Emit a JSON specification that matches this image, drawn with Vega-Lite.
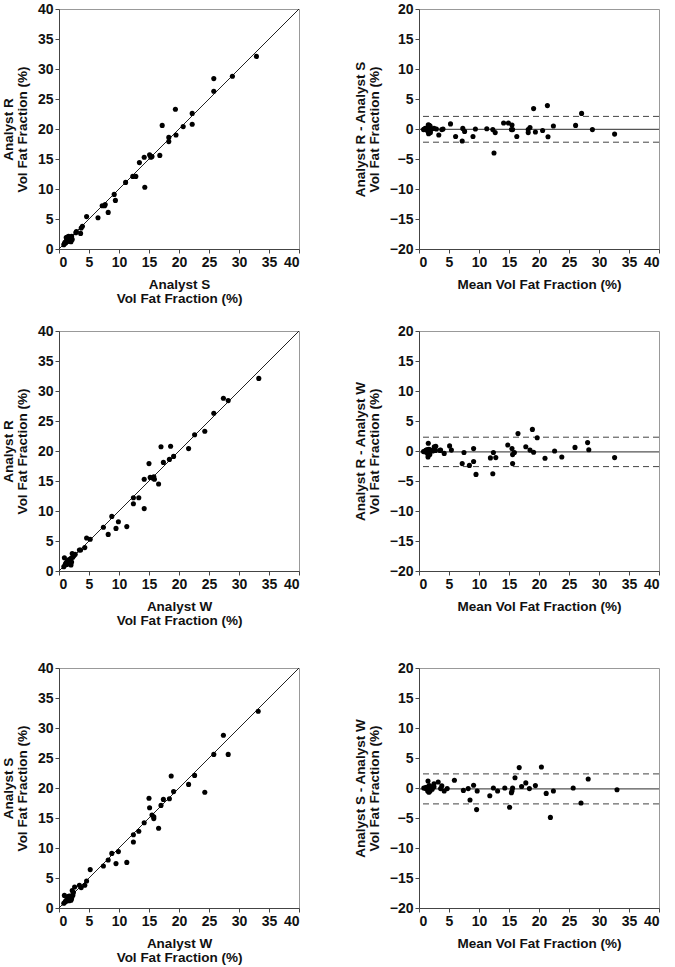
{
  "$schema": "https://vega.github.io/schema/vega-lite/v6.json",
  "background": "white",
  "padding": {"left": 0, "top": 1, "right": 5, "bottom": 5},
  "config": {
    "font": "Liberation Sans",
    "view": {"stroke": "#999", "strokeWidth": 1},
    "axis": {
      "grid": false,
      "labelFont": "Liberation Sans",
      "labelFontWeight": "bold",
      "labelFontSize": 14,
      "labelColor": "#111",
      "labelPadding": 2,
      "titleFont": "Liberation Sans",
      "titleFontWeight": "bold",
      "titleFontSize": 13.5,
      "titleColor": "#111",
      "titleLineHeight": 14,
      "domainColor": "#444",
      "tickColor": "#444",
      "tickSize": 4
    },
    "axisX": {"titlePadding": 8},
    "axisY": {"titlePadding": 8}
  },
  "datasets": {
    "identity": [{"x": 0, "y": 0}, {"x": 40, "y": 40}],
    "rs": [
      {"x": 32.9, "y": 32.1}, {"x": 28.9, "y": 28.8}, {"x": 25.8, "y": 28.4}, {"x": 25.8, "y": 26.3},
      {"x": 22.2, "y": 22.6}, {"x": 22.2, "y": 20.8}, {"x": 19.4, "y": 23.3}, {"x": 19.5, "y": 19.0},
      {"x": 20.7, "y": 20.4}, {"x": 17.2, "y": 20.6}, {"x": 18.3, "y": 18.6}, {"x": 18.3, "y": 17.9},
      {"x": 16.8, "y": 15.6}, {"x": 15.1, "y": 15.7}, {"x": 15.3, "y": 15.3}, {"x": 15.5, "y": 15.4},
      {"x": 14.2, "y": 15.3}, {"x": 13.4, "y": 14.4}, {"x": 14.3, "y": 10.3}, {"x": 12.3, "y": 12.1},
      {"x": 12.8, "y": 12.1}, {"x": 11.1, "y": 11.1}, {"x": 9.2, "y": 9.1}, {"x": 9.4, "y": 8.1},
      {"x": 8.2, "y": 6.1}, {"x": 7.2, "y": 7.2}, {"x": 7.6, "y": 7.2}, {"x": 7.7, "y": 7.4},
      {"x": 6.5, "y": 5.2}, {"x": 4.6, "y": 5.4}, {"x": 3.9, "y": 3.8}, {"x": 3.7, "y": 3.5},
      {"x": 3.6, "y": 2.6}, {"x": 2.9, "y": 2.9}, {"x": 2.8, "y": 2.7},
      {"x": 0.8, "y": 0.7}, {"x": 0.9, "y": 0.9}, {"x": 1.0, "y": 1.1}, {"x": 1.1, "y": 1.0},
      {"x": 1.2, "y": 1.3}, {"x": 1.3, "y": 1.2}, {"x": 1.3, "y": 1.5}, {"x": 1.4, "y": 1.8},
      {"x": 1.4, "y": 2.0}, {"x": 1.5, "y": 1.4}, {"x": 1.6, "y": 1.6}, {"x": 1.6, "y": 2.1},
      {"x": 1.7, "y": 1.3}, {"x": 1.8, "y": 1.7}, {"x": 1.9, "y": 1.5}, {"x": 2.0, "y": 1.9},
      {"x": 2.0, "y": 1.2}, {"x": 2.1, "y": 2.1}, {"x": 2.2, "y": 1.6}, {"x": 1.2, "y": 1.9}
    ],
    "rs_ba": [
      {"m": 32.6, "d": -0.85}, {"m": 28.9, "d": -0.1}, {"m": 27.1, "d": 2.6}, {"m": 26.1, "d": 0.6},
      {"m": 22.4, "d": 0.5}, {"m": 21.4, "d": 3.9}, {"m": 21.5, "d": -1.3}, {"m": 20.6, "d": -0.25},
      {"m": 19.4, "d": -0.5}, {"m": 19.1, "d": 3.4}, {"m": 18.5, "d": 0.25}, {"m": 18.2, "d": -0.6},
      {"m": 18.2, "d": -0.1}, {"m": 16.3, "d": -1.25}, {"m": 15.6, "d": -0.1}, {"m": 15.4, "d": -0.1},
      {"m": 15.5, "d": 0.65}, {"m": 14.9, "d": 1.0}, {"m": 14.1, "d": 1.0}, {"m": 12.5, "d": -4.0},
      {"m": 12.7, "d": -0.6}, {"m": 12.3, "d": -0.1}, {"m": 11.3, "d": 0.05}, {"m": 9.4, "d": 0},
      {"m": 9.0, "d": -1.25}, {"m": 7.6, "d": -0.4}, {"m": 7.3, "d": 0.1}, {"m": 7.2, "d": -2.0},
      {"m": 6.1, "d": -1.25}, {"m": 5.25, "d": 0.85}, {"m": 4.0, "d": 0}, {"m": 3.8, "d": -0.1},
      {"m": 3.3, "d": -1.0}, {"m": 2.9, "d": 0}, {"m": 2.5, "d": 0.1},
      {"m": 0.75, "d": -0.1}, {"m": 0.9, "d": 0}, {"m": 1.05, "d": 0.1}, {"m": 1.05, "d": -0.1},
      {"m": 1.25, "d": 0.1}, {"m": 1.25, "d": -0.1}, {"m": 1.4, "d": 0.2}, {"m": 1.6, "d": 0.4},
      {"m": 1.7, "d": 0.6}, {"m": 1.45, "d": -0.1}, {"m": 1.6, "d": 0}, {"m": 1.85, "d": 0.5},
      {"m": 1.5, "d": -0.4}, {"m": 1.75, "d": -0.1}, {"m": 1.7, "d": -0.4}, {"m": 1.95, "d": -0.1},
      {"m": 1.6, "d": -0.8}, {"m": 2.1, "d": 0}, {"m": 1.9, "d": -0.6}, {"m": 1.55, "d": 0.7}
    ],
    "rs_lim": [{"d": 2.1}, {"d": -2.2}],
    "rs_mean": [{"d": -0.05}],
    "rw": [
      {"x": 33.3, "y": 32.1}, {"x": 27.4, "y": 28.8}, {"x": 28.2, "y": 28.4}, {"x": 25.8, "y": 26.3},
      {"x": 22.6, "y": 22.7}, {"x": 24.3, "y": 23.3}, {"x": 21.6, "y": 20.4}, {"x": 17.0, "y": 20.7},
      {"x": 18.6, "y": 20.8}, {"x": 19.1, "y": 19.1}, {"x": 18.4, "y": 18.6}, {"x": 17.4, "y": 18.1},
      {"x": 15.0, "y": 17.9}, {"x": 16.6, "y": 14.5}, {"x": 15.2, "y": 15.6}, {"x": 15.8, "y": 15.7},
      {"x": 15.9, "y": 15.3}, {"x": 15.6, "y": 15.5}, {"x": 14.2, "y": 15.3}, {"x": 14.2, "y": 10.4},
      {"x": 12.4, "y": 12.2}, {"x": 13.3, "y": 12.2}, {"x": 12.4, "y": 11.2}, {"x": 11.3, "y": 7.4},
      {"x": 9.9, "y": 8.2}, {"x": 9.5, "y": 7.1}, {"x": 8.8, "y": 9.1}, {"x": 8.2, "y": 6.1},
      {"x": 7.4, "y": 7.3}, {"x": 5.2, "y": 5.3}, {"x": 4.6, "y": 5.5}, {"x": 4.3, "y": 3.9},
      {"x": 3.4, "y": 3.5}, {"x": 3.6, "y": 3.5},
      {"x": 0.8, "y": 0.7}, {"x": 0.9, "y": 2.2}, {"x": 1.0, "y": 1.0}, {"x": 1.1, "y": 1.2},
      {"x": 1.2, "y": 1.4}, {"x": 1.3, "y": 1.1}, {"x": 1.4, "y": 1.6}, {"x": 1.5, "y": 1.3},
      {"x": 1.6, "y": 1.5}, {"x": 1.7, "y": 1.9}, {"x": 1.8, "y": 1.2}, {"x": 1.9, "y": 1.7},
      {"x": 2.0, "y": 1.0}, {"x": 2.0, "y": 2.1}, {"x": 2.1, "y": 1.5}, {"x": 2.2, "y": 2.9},
      {"x": 2.3, "y": 2.3}, {"x": 2.5, "y": 2.6}, {"x": 2.7, "y": 2.8}, {"x": 1.5, "y": 1.8}
    ],
    "rw_ba": [
      {"m": 32.6, "d": -1.1}, {"m": 28.3, "d": 0.2}, {"m": 28.1, "d": 1.4}, {"m": 26.0, "d": 0.6},
      {"m": 23.8, "d": -1.0}, {"m": 22.6, "d": 0}, {"m": 21.0, "d": -1.2}, {"m": 19.7, "d": 2.2},
      {"m": 19.1, "d": -0.2}, {"m": 18.9, "d": 3.6}, {"m": 18.5, "d": 0.15}, {"m": 17.8, "d": 0.7},
      {"m": 16.5, "d": 2.9}, {"m": 15.9, "d": -0.25}, {"m": 15.6, "d": -0.6}, {"m": 15.5, "d": 0.4},
      {"m": 15.6, "d": -2.1}, {"m": 14.8, "d": 1.0}, {"m": 12.8, "d": -1.1}, {"m": 12.4, "d": -0.25},
      {"m": 11.9, "d": -1.15}, {"m": 12.3, "d": -3.8}, {"m": 9.5, "d": -3.9}, {"m": 9.1, "d": -1.75},
      {"m": 9.1, "d": 0.4}, {"m": 8.4, "d": -2.4}, {"m": 7.5, "d": -0.25}, {"m": 7.2, "d": -2.1},
      {"m": 5.4, "d": 0.15}, {"m": 5.1, "d": 0.85}, {"m": 4.2, "d": -0.4}, {"m": 3.6, "d": 0.15},
      {"m": 2.8, "d": 0.8}, {"m": 3.5, "d": 0.1},
      {"m": 0.75, "d": -0.1}, {"m": 1.55, "d": 1.3}, {"m": 1.0, "d": 0}, {"m": 1.15, "d": 0.1},
      {"m": 1.3, "d": 0.2}, {"m": 1.2, "d": -0.2}, {"m": 1.5, "d": 0.2}, {"m": 1.4, "d": -0.2},
      {"m": 1.55, "d": -0.1}, {"m": 1.8, "d": 0.2}, {"m": 1.5, "d": -0.6}, {"m": 1.8, "d": -0.2},
      {"m": 1.5, "d": -1.0}, {"m": 2.05, "d": 0.1}, {"m": 1.8, "d": -0.6}, {"m": 2.55, "d": 0.7},
      {"m": 2.3, "d": 0}, {"m": 2.55, "d": 0.1}, {"m": 2.75, "d": 0.1}, {"m": 1.65, "d": 0.3}
    ],
    "rw_lim": [{"d": 2.3}, {"d": -2.6}],
    "rw_mean": [{"d": -0.15}],
    "sw": [
      {"x": 33.2, "y": 32.8}, {"x": 27.4, "y": 28.8}, {"x": 28.2, "y": 25.6}, {"x": 25.8, "y": 25.6},
      {"x": 22.6, "y": 22.1}, {"x": 18.7, "y": 22.0}, {"x": 21.6, "y": 20.6}, {"x": 24.3, "y": 19.3},
      {"x": 19.1, "y": 19.4}, {"x": 18.4, "y": 18.2}, {"x": 17.4, "y": 18.1}, {"x": 17.0, "y": 17.1},
      {"x": 15.0, "y": 18.3}, {"x": 15.1, "y": 16.7}, {"x": 15.5, "y": 15.5}, {"x": 15.8, "y": 15.2},
      {"x": 15.8, "y": 14.9}, {"x": 16.6, "y": 13.3}, {"x": 14.2, "y": 14.2}, {"x": 13.3, "y": 12.8},
      {"x": 12.4, "y": 12.2}, {"x": 12.4, "y": 11.0}, {"x": 9.9, "y": 9.4}, {"x": 8.8, "y": 9.1},
      {"x": 8.2, "y": 8.0}, {"x": 7.4, "y": 7.0}, {"x": 9.5, "y": 7.4}, {"x": 11.3, "y": 7.6},
      {"x": 5.2, "y": 6.4}, {"x": 4.6, "y": 4.5}, {"x": 4.3, "y": 3.8}, {"x": 3.4, "y": 3.8},
      {"x": 3.7, "y": 3.4}, {"x": 2.6, "y": 3.5}, {"x": 2.2, "y": 2.9},
      {"x": 0.8, "y": 0.8}, {"x": 0.9, "y": 2.1}, {"x": 1.0, "y": 1.0}, {"x": 1.1, "y": 1.1},
      {"x": 1.2, "y": 1.3}, {"x": 1.3, "y": 1.2}, {"x": 1.4, "y": 1.4}, {"x": 1.5, "y": 1.5},
      {"x": 1.6, "y": 1.7}, {"x": 1.7, "y": 2.0}, {"x": 1.8, "y": 1.4}, {"x": 1.9, "y": 1.6},
      {"x": 2.0, "y": 1.3}, {"x": 2.0, "y": 2.0}, {"x": 2.1, "y": 1.6}, {"x": 1.5, "y": 1.9},
      {"x": 2.3, "y": 2.1}, {"x": 1.7, "y": 1.2}, {"x": 2.4, "y": 2.6}
    ],
    "sw_ba": [
      {"m": 33.0, "d": -0.3}, {"m": 28.2, "d": 1.5}, {"m": 27.0, "d": -2.5}, {"m": 25.7, "d": 0},
      {"m": 22.4, "d": -0.5}, {"m": 21.2, "d": -0.9}, {"m": 21.9, "d": -4.9}, {"m": 20.4, "d": 3.5},
      {"m": 19.4, "d": 0.4}, {"m": 18.4, "d": -0.1}, {"m": 17.8, "d": 0.85}, {"m": 17.1, "d": 0.25},
      {"m": 16.7, "d": 3.4}, {"m": 16.0, "d": 1.7}, {"m": 15.6, "d": 0}, {"m": 15.5, "d": -0.5},
      {"m": 15.4, "d": -0.8}, {"m": 15.1, "d": -3.2}, {"m": 14.3, "d": 0}, {"m": 13.1, "d": -0.5},
      {"m": 12.4, "d": 0}, {"m": 11.8, "d": -1.3}, {"m": 9.7, "d": -0.5}, {"m": 9.6, "d": -3.6},
      {"m": 9.1, "d": 0.45}, {"m": 8.5, "d": -2.0}, {"m": 8.2, "d": -0.1}, {"m": 7.4, "d": -0.4},
      {"m": 5.9, "d": 1.3}, {"m": 4.7, "d": -0.1}, {"m": 4.2, "d": -0.5}, {"m": 3.8, "d": 0.35},
      {"m": 3.6, "d": -0.1}, {"m": 3.2, "d": 1.0}, {"m": 2.5, "d": 0.7},
      {"m": 0.8, "d": 0}, {"m": 1.5, "d": 1.15}, {"m": 1.0, "d": 0}, {"m": 1.1, "d": 0},
      {"m": 1.25, "d": 0.1}, {"m": 1.25, "d": -0.1}, {"m": 1.4, "d": 0}, {"m": 1.5, "d": 0},
      {"m": 1.65, "d": 0.1}, {"m": 1.85, "d": 0.3}, {"m": 1.6, "d": -0.4}, {"m": 1.75, "d": -0.3},
      {"m": 1.65, "d": -0.7}, {"m": 2.0, "d": 0}, {"m": 1.85, "d": -0.5}, {"m": 1.7, "d": 0.4},
      {"m": 2.2, "d": -0.2}, {"m": 1.45, "d": -0.5}, {"m": 2.5, "d": 0.2}
    ],
    "sw_lim": [{"d": 2.35}, {"d": -2.65}],
    "sw_mean": [{"d": -0.15}]
  },
  "spacing": 18,
  "vconcat": [
    {
      "spacing": 50,
      "hconcat": [
        {
          "width": 240, "height": 240,
          "encoding": {
            "x": {"field": "x", "type": "quantitative", "scale": {"domain": [0, 40], "nice": false},
                  "axis": {"values": [0, 5, 10, 15, 20, 25, 30, 35, 40], "title": ["Analyst S", "Vol Fat Fraction (%)"]}},
            "y": {"field": "y", "type": "quantitative", "scale": {"domain": [0, 40], "nice": false},
                  "axis": {"values": [0, 5, 10, 15, 20, 25, 30, 35, 40], "title": ["Analyst R", "Vol Fat Fraction (%)"]}}
          },
          "layer": [
            {"data": {"name": "identity"}, "mark": {"type": "line", "color": "#222", "strokeWidth": 1}},
            {"data": {"name": "rs"}, "mark": {"type": "circle", "size": 26, "color": "#000", "opacity": 1}}
          ]
        },
        {
          "width": 240, "height": 240,
          "layer": [
            {"data": {"name": "rs_lim"}, "mark": {"type": "rule", "color": "#444", "strokeWidth": 1, "strokeDash": [6, 4]},
             "encoding": {"y": {"field": "d", "type": "quantitative", "scale": {"domain": [-20, 20], "nice": false},
                                "axis": {"values": [-20, -15, -10, -5, 0, 5, 10, 15, 20], "title": ["Analyst R - Analyst S", "Vol Fat Fraction (%)"]}}}},
            {"data": {"name": "rs_mean"}, "mark": {"type": "rule", "color": "#555", "strokeWidth": 1.2},
             "encoding": {"y": {"field": "d", "type": "quantitative",
                                "axis": {"values": [-20, -15, -10, -5, 0, 5, 10, 15, 20], "title": ["Analyst R - Analyst S", "Vol Fat Fraction (%)"]}}}},
            {"data": {"name": "rs_ba"}, "mark": {"type": "circle", "size": 26, "color": "#000", "opacity": 1},
             "encoding": {
               "x": {"field": "m", "type": "quantitative", "scale": {"domain": [0, 40], "nice": false},
                     "axis": {"values": [0, 5, 10, 15, 20, 25, 30, 35, 40], "title": "Mean Vol Fat Fraction (%)"}},
               "y": {"field": "d", "type": "quantitative",
                     "axis": {"values": [-20, -15, -10, -5, 0, 5, 10, 15, 20], "title": ["Analyst R - Analyst S", "Vol Fat Fraction (%)"]}}
             }}
          ]
        }
      ]
    },
    {
      "spacing": 33,
      "vconcat": [
        {
          "spacing": 50,
          "hconcat": [
            {
              "width": 240, "height": 240,
              "encoding": {
                "x": {"field": "x", "type": "quantitative", "scale": {"domain": [0, 40], "nice": false},
                      "axis": {"values": [0, 5, 10, 15, 20, 25, 30, 35, 40], "title": ["Analyst W", "Vol Fat Fraction (%)"]}},
                "y": {"field": "y", "type": "quantitative", "scale": {"domain": [0, 40], "nice": false},
                      "axis": {"values": [0, 5, 10, 15, 20, 25, 30, 35, 40], "title": ["Analyst R", "Vol Fat Fraction (%)"]}}
              },
              "layer": [
                {"data": {"name": "identity"}, "mark": {"type": "line", "color": "#222", "strokeWidth": 1}},
                {"data": {"name": "rw"}, "mark": {"type": "circle", "size": 26, "color": "#000", "opacity": 1}}
              ]
            },
            {
              "width": 240, "height": 240,
              "layer": [
                {"data": {"name": "rw_lim"}, "mark": {"type": "rule", "color": "#444", "strokeWidth": 1, "strokeDash": [6, 4]},
                 "encoding": {"y": {"field": "d", "type": "quantitative", "scale": {"domain": [-20, 20], "nice": false},
                                    "axis": {"values": [-20, -15, -10, -5, 0, 5, 10, 15, 20], "title": ["Analyst R - Analyst W", "Vol Fat Fraction (%)"]}}}},
                {"data": {"name": "rw_mean"}, "mark": {"type": "rule", "color": "#555", "strokeWidth": 1.2},
                 "encoding": {"y": {"field": "d", "type": "quantitative",
                                    "axis": {"values": [-20, -15, -10, -5, 0, 5, 10, 15, 20], "title": ["Analyst R - Analyst W", "Vol Fat Fraction (%)"]}}}},
                {"data": {"name": "rw_ba"}, "mark": {"type": "circle", "size": 26, "color": "#000", "opacity": 1},
                 "encoding": {
                   "x": {"field": "m", "type": "quantitative", "scale": {"domain": [0, 40], "nice": false},
                         "axis": {"values": [0, 5, 10, 15, 20, 25, 30, 35, 40], "title": "Mean Vol Fat Fraction (%)"}},
                   "y": {"field": "d", "type": "quantitative",
                         "axis": {"values": [-20, -15, -10, -5, 0, 5, 10, 15, 20], "title": ["Analyst R - Analyst W", "Vol Fat Fraction (%)"]}}
                 }}
              ]
            }
          ]
        },
        {
          "spacing": 50,
          "hconcat": [
            {
              "width": 240, "height": 240,
              "encoding": {
                "x": {"field": "x", "type": "quantitative", "scale": {"domain": [0, 40], "nice": false},
                      "axis": {"values": [0, 5, 10, 15, 20, 25, 30, 35, 40], "title": ["Analyst W", "Vol Fat Fraction (%)"]}},
                "y": {"field": "y", "type": "quantitative", "scale": {"domain": [0, 40], "nice": false},
                      "axis": {"values": [0, 5, 10, 15, 20, 25, 30, 35, 40], "title": ["Analyst S", "Vol Fat Fraction (%)"]}}
              },
              "layer": [
                {"data": {"name": "identity"}, "mark": {"type": "line", "color": "#222", "strokeWidth": 1}},
                {"data": {"name": "sw"}, "mark": {"type": "circle", "size": 26, "color": "#000", "opacity": 1}}
              ]
            },
            {
              "width": 240, "height": 240,
              "layer": [
                {"data": {"name": "sw_lim"}, "mark": {"type": "rule", "color": "#444", "strokeWidth": 1, "strokeDash": [6, 4]},
                 "encoding": {"y": {"field": "d", "type": "quantitative", "scale": {"domain": [-20, 20], "nice": false},
                                    "axis": {"values": [-20, -15, -10, -5, 0, 5, 10, 15, 20], "title": ["Analyst S - Analyst W", "Vol Fat Fraction (%)"]}}}},
                {"data": {"name": "sw_mean"}, "mark": {"type": "rule", "color": "#555", "strokeWidth": 1.2},
                 "encoding": {"y": {"field": "d", "type": "quantitative",
                                    "axis": {"values": [-20, -15, -10, -5, 0, 5, 10, 15, 20], "title": ["Analyst S - Analyst W", "Vol Fat Fraction (%)"]}}}},
                {"data": {"name": "sw_ba"}, "mark": {"type": "circle", "size": 26, "color": "#000", "opacity": 1},
                 "encoding": {
                   "x": {"field": "m", "type": "quantitative", "scale": {"domain": [0, 40], "nice": false},
                         "axis": {"values": [0, 5, 10, 15, 20, 25, 30, 35, 40], "title": "Mean Vol Fat Fraction (%)"}},
                   "y": {"field": "d", "type": "quantitative",
                         "axis": {"values": [-20, -15, -10, -5, 0, 5, 10, 15, 20], "title": ["Analyst S - Analyst W", "Vol Fat Fraction (%)"]}}
                 }}
              ]
            }
          ]
        }
      ]
    }
  ]
}
